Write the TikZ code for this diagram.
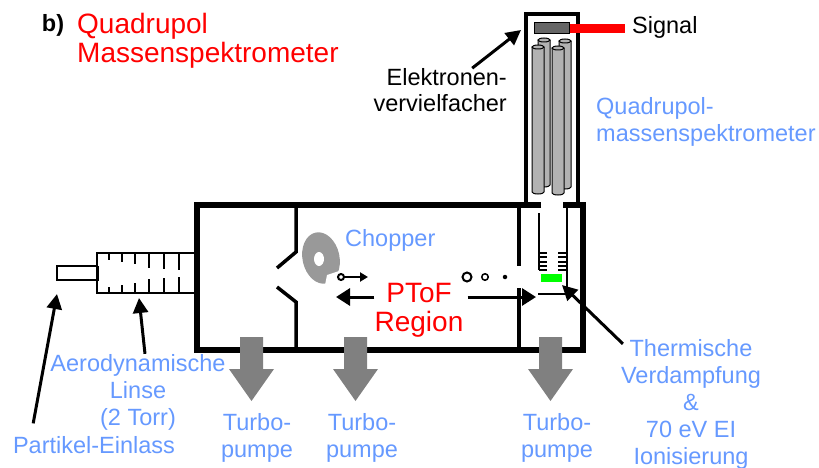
\documentclass[tikz,border=0pt]{standalone}
\usepackage{fontspec}
\usepackage{xcolor}
\usetikzlibrary{arrows.meta, positioning}
\setmainfont{Liberation Sans}
\definecolor{Label_Blue}{HTML}{6699FF}
\definecolor{Label_Red}{HTML}{FF0000}
\definecolor{Pump_Gray}{HTML}{808080}
\definecolor{Rod_Gray}{HTML}{B2B2B2}
\definecolor{Chopper_Gray}{HTML}{999999}
\definecolor{Heater_Green}{HTML}{00FF00}
\definecolor{Detector_Gray}{HTML}{666666}
\tikzset{
    bluetext/.style={Label_Blue, inner sep=0pt, align=center, font=\fontsize{23.5}{27}\selectfont},
    blacktext/.style={black, inner sep=0pt, font=\fontsize{23.5}{26}\selectfont},
    redtext/.style={Label_Red, inner sep=0pt, font=\fontsize{28}{29}\selectfont},
    pointer/.style={line width=3pt, -{Triangle[length=15pt, width=15pt]}},
    beam/.style={line width=3pt, -{Triangle[length=14pt, width=17pt]}},
    wall/.style={line width=3.5pt},
    optics/.style={line width=2pt},
}

\begin{document}
\begin{tikzpicture}[x=1pt, y=-1pt]
    \useasboundingbox (0,0) rectangle (819,468);

    % Lens and inlet
    \draw[optics] (197,253) -- (97,253) -- (97,293) -- (197,293);
    \draw[line width=3.5pt] (97,266) -- (97,281);
    \node[draw, line width=2pt, fill=white, minimum width=40pt, minimum height=14pt, inner sep=0pt] (inlet) at (76.5,273) {};
    \foreach \x/\a/\b in {109/260/287, 122/262/285, 135/264/283, 149/268/279, 164/269/278, 179/270/277} {
        \draw[optics] (\x,253) -- (\x,\a);
        \draw[optics] (\x,293) -- (\x,\b);
    }

    % Main chamber
    \draw[line width=6pt] (541,205) -- (197,205) -- (197,350) -- (583,350) -- (583,205) -- (563,205);
    \draw[wall] (296,205) -- (296,252) -- (277,268);
    \draw[wall] (277,287) -- (296,302) -- (296,350);
    \draw[wall] (519,205) -- (519,266);
    \draw[wall] (519,288) -- (519,350);

    % Quadrupole housing
    \draw[line width=4.5pt] (526,205) -- (526,14) -- (578,14) -- (578,205);
    \draw[draw=none, fill=Label_Red] (569,24) rectangle (625,33);
    \node[draw, line width=1pt, fill=Detector_Gray, minimum width=35pt, minimum height=11pt, inner sep=0pt] (detector) at (551.5,28.5) {};
    \foreach \x/\t/\b in {538/40/185, 559/41/187, 532/47/192, 552/48/193} {
        \draw[line width=1pt, fill=Rod_Gray] (\x,\t) -- (\x,\b) arc[start angle=180, end angle=360, x radius=6pt, y radius=2pt] -- (\x+12,\t);
        \draw[line width=1pt, fill=Rod_Gray] (\x+6,\t) ellipse [x radius=6pt, y radius=2pt];
    }

    % Ion source
    \draw[optics] (539,213) -- (539,270);
    \draw[optics] (567,205) -- (567,298);
    \foreach \y in {253,257,262,266,270} {
        \draw[optics] (539,\y) -- (547,\y);
        \draw[optics] (558,\y) -- (567,\y);
    }
    \fill[Heater_Green] (541,274) rectangle (562,282);
    \draw[optics] (538,294) -- (567,294);

    % Chopper
    \fill[Chopper_Gray] (321,258) ellipse [x radius=18.5pt, y radius=26pt, rotate=12];
    \fill[white] (319,259) ellipse [x radius=5pt, y radius=7pt];
    \fill[white] (327,275) -- (342,270) -- (342,285) -- (325,285) -- cycle;

    % Particles
    \node[draw, line width=2pt, circle, minimum size=6pt, inner sep=0pt] (particle) at (341,277) {};
    \coordinate (particleTip) at (368,277);
    \draw[line width=2pt, -{Triangle[length=8pt, width=9pt]}] (particle) -- (particleTip);
    \node[draw, line width=2pt, circle, minimum size=9pt, inner sep=0pt] (dotA) at (467,277) {};
    \node[draw, line width=1.5pt, circle, minimum size=6.5pt, inner sep=0pt] (dotB) at (485,277) {};
    \node[fill, circle, minimum size=4.5pt, inner sep=0pt] (dotC) at (505,277) {};

    % Pumps
    \foreach \x in {251.5,355.5,550.5} {
        \fill[Pump_Gray] (\x-11.5,337) -- (\x+11.5,337) -- (\x+11.5,369) -- (\x+22.5,369) -- (\x,401) -- (\x-22.5,369) -- (\x-11.5,369) -- cycle;
    }

    % Labels
    \node[black, inner sep=0pt, font=\fontsize{23.5}{26}\selectfont\bfseries] (panel) at (53,25) {b)};
    \node[redtext, anchor=west, align=left] (title) at (77,41) {Quadrupol\\Massenspektrometer};
    \node[blacktext, anchor=west] (signal) at (632,27) {Signal};
    \node[blacktext, anchor=east, align=right] (lblElektronen) at (507,90) {Elektronen-\\vervielfacher};
    \node[bluetext, anchor=west, align=left] (lblQuadrupol) at (596,122) {Quadrupol-\\massenspektrometer};
    \node[bluetext, anchor=west] (lblChopper) at (345,240) {Chopper};
    \node[redtext, align=center] (lblPtof) at (419,310) {PToF\\Region};
    \node[bluetext] (lblLinse) at (138,392) {Aerodynamische\\Linse\\(2 Torr)};
    \node[bluetext] (lblPartikel) at (94,445) {Partikel-Einlass};
    \node[bluetext] (lblThermisch) at (691,404) {Thermische\\Verdampfung\\\&\\70 eV EI\\Ionisierung};
    \node[bluetext] (lblPumpA) at (257,437.5) {Turbo-\\pumpe};
    \node[bluetext] (lblPumpB) at (362,437.5) {Turbo-\\pumpe};
    \node[bluetext] (lblPumpC) at (557,437.5) {Turbo-\\pumpe};

    % Arrows
    \coordinate (tipElektronen) at (521,30);
    \coordinate (tipLinse) at (139,298);
    \coordinate (tipPartikel) at (57,294);
    \coordinate (tipThermisch) at (562,285);
    \coordinate (tipBack) at (336,297);
    \coordinate (tipForward) at (536,297);
    \draw[pointer] ([xshift=32pt]lblElektronen.north) -- (tipElektronen);
    \draw[pointer] ([xshift=7pt]lblLinse.north) -- (tipLinse);
    \draw[pointer, shorten <=13pt] ([xshift=18pt]lblPartikel.north west) -- (tipPartikel);
    \draw[pointer] ([xshift=2pt, yshift=-5pt]lblThermisch.north west) -- (tipThermisch);
    \draw[beam] (lblPtof.west |- tipBack) -- (tipBack);
    \draw[beam] ([xshift=4pt]lblPtof.east |- tipForward) -- (tipForward);
\end{tikzpicture}
\end{document}
